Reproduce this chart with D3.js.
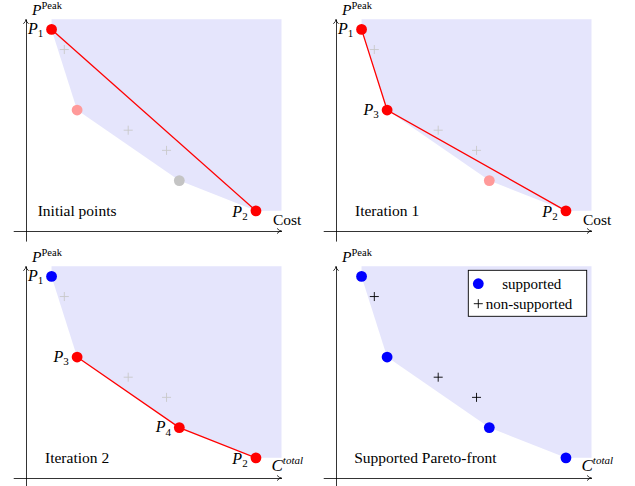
<!DOCTYPE html>
<html><head><meta charset="utf-8">
<script src="https://cdn.jsdelivr.net/npm/d3@7"></script>
<style>
body{margin:0;background:#fff}
svg{display:block}
</style>
</head><body>
<script>
// ---- data ----
const pointNames = ["P1", "P3", "P4", "P2"];
const pointX = [1, 2, 6, 9];
const pointY = [10, 6, 2.5, 1];
const plusX = [1.5, 4, 5.5];
const plusY = [9, 5, 4];
const panelTitles = ["Initial points", "Iteration 1", "Iteration 2", "Supported Pareto-front"];
const panelTitleX = [2, 2, 2, 3.5];
const panelXLabelMain = ["Cost", "Cost", "C", "C"];
const panelXLabelSup = ["", "", "total", "total"];
const yLabelMain = "P";
const yLabelSup = "Peak";
const pointColorKeys = [
  ["red", "pink", "gray", "red"],
  ["red", "red", "pink", "red"],
  ["blue", "red", "red", "red"],
  ["blue", "blue", "blue", "blue"]
];
const redPaths = [["P1", "P2"], ["P1", "P3", "P2"], ["P3", "P4", "P2"], []];
const shownLabels = [["P1", "P2"], ["P1", "P3", "P2"], ["P1", "P3", "P4", "P2"], []];
const plusColorKeys = ["lightgray", "lightgray", "lightgray", "black"];
const legendLabels = ["supported", "non-supported"];

const colors = {red: "#ff0000", pink: "#ff9a9a", gray: "#c4c4c4", blue: "#0000ff", lightgray: "#c8c8c8", black: "#000"};
const shadeColor = "#e5e5fc";
const FONT = "'Liberation Serif', 'DejaVu Serif', 'Times New Roman', Times, serif";

// ---- layout ----
const W = 635, H = 486;
const origins = [[26, 231], [336, 231], [26, 478], [336, 478]];
const x = d3.scaleLinear().domain([0, 10]).range([0, 255.5]);
const y = d3.scaleLinear().domain([0, 10]).range([0, -201.6]);

const svg = d3.select("body").append("svg").attr("width", W).attr("height", H)
  .attr("font-family", FONT);

const pts = pointNames.map((n, i) => ({name: n, x: pointX[i], y: pointY[i]}));
const byName = Object.fromEntries(pts.map(p => [p.name, p]));
const pluses = plusX.map((v, i) => ({x: v, y: plusY[i]}));

function txt(g) { return g.append("text").attr("font-family", FONT).attr("fill", "#000"); }

function pLabel(g, px, py, sub, size) {
  const t = txt(g).attr("x", px).attr("y", py).attr("text-anchor", "end").attr("font-size", size);
  t.append("tspan").attr("font-style", "italic").text("P");
  t.append("tspan").attr("font-size", 11).attr("dy", 3.5).text(sub);
}

function plus(g, cx, cy, col) {
  const s = 4.5;
  g.append("path").attr("d", `M${cx - s},${cy}H${cx + s}M${cx},${cy - s}V${cy + s}`)
    .attr("stroke", col).attr("stroke-width", 0.9).attr("fill", "none");
}

origins.forEach((o, k) => {
  const g = svg.append("g").attr("transform", `translate(${o[0]},${o[1]})`);

  // shaded dominated region: top-left, top-right, bottom-right, then front from P2 back to P1
  const hull = [[1, 10.5], [10, 10.5], [10, 1], ...pts.slice().reverse().map(p => [p.x, p.y])];
  g.append("path")
    .attr("d", d3.line().x(d => x(d[0])).y(d => y(d[1]))(hull) + "Z")
    .attr("fill", shadeColor).attr("stroke", "none");

  // axes via d3.axis (no ticks)
  const xa = d3.scaleLinear().domain([-0.5, 10]).range([x(-0.5), x(10)]);
  const ya = d3.scaleLinear().domain([-0.5, 10.5]).range([y(-0.5), y(10.5)]);
  const gx = g.append("g").call(d3.axisBottom(xa).tickValues([]).tickSizeOuter(0));
  const gy = g.append("g").call(d3.axisLeft(ya).tickValues([]).tickSizeOuter(0));
  [gx, gy].forEach(a => a.select(".domain").attr("stroke", "#000").attr("stroke-width", 0.8));
  const tx = x(10), ty = y(10.5);
  g.append("path").attr("d", `M${tx - 4.5},-2.6Q${tx - 2},0 ${tx},0Q${tx - 2},0 ${tx - 4.5},2.6`)
    .attr("stroke", "#000").attr("stroke-width", 0.8).attr("fill", "none");
  g.append("path").attr("d", `M-2.6,${ty + 4.5}Q0,${ty + 2} 0,${ty}Q0,${ty + 2} 2.6,${ty + 4.5}`)
    .attr("stroke", "#000").attr("stroke-width", 0.8).attr("fill", "none");

  // axis labels
  const yl = txt(g).attr("x", 6).attr("y", y(10.5) - 4).attr("font-size", 15.5);
  yl.append("tspan").attr("font-style", "italic").text(yLabelMain);
  yl.append("tspan").attr("font-size", 10.5).attr("dy", -6).text(yLabelSup);

  const xl = txt(g).attr("x", 245.5).attr("y", -6).attr("font-size", 15.5);
  if (panelXLabelSup[k]) {
    xl.attr("font-size", 17).attr("y", -7);
    xl.append("tspan").attr("font-style", "italic").text(panelXLabelMain[k]);
    xl.append("tspan").attr("font-style", "italic").attr("font-size", 11).attr("dy", -7).text(panelXLabelSup[k]);
  } else {
    xl.attr("x", 247).text(panelXLabelMain[k]);
  }

  // title
  txt(g).attr("x", x(panelTitleX[k])).attr("y", y(1) + 5)
    .attr("text-anchor", "middle").attr("font-size", 15.5).text(panelTitles[k]);

  // non-supported points
  pluses.forEach(p => plus(g, x(p.x), y(p.y), colors[plusColorKeys[k]]));

  // red line
  if (redPaths[k].length) {
    g.append("path")
      .attr("d", d3.line().x(d => x(d.x)).y(d => y(d.y))(redPaths[k].map(n => byName[n])))
      .attr("stroke", colors.red).attr("stroke-width", 1.3).attr("fill", "none");
  }

  // points
  pts.forEach((p, i) => {
    g.append("circle").attr("cx", x(p.x)).attr("cy", y(p.y)).attr("r", 5.4)
      .attr("fill", colors[pointColorKeys[k][i]]);
  });

  // point labels
  shownLabels[k].forEach(n => {
    const p = byName[n];
    const dyb = n === "P2" ? 6 : 4.5;
    pLabel(g, x(p.x) - 8.3, y(p.y) + dyb, n.slice(1), 16);
  });

  // legend
  if (k === 3) {
    const lg = g.append("g");
    lg.append("rect").attr("x", 132.3).attr("y", -207.7).attr("width", 118.4).attr("height", 46)
      .attr("fill", "#fff").attr("stroke", "#000").attr("stroke-width", 0.9);
    lg.append("circle").attr("cx", 142.3).attr("cy", -194.3).attr("r", 5.4).attr("fill", colors.blue);
    txt(lg).attr("x", 195.8).attr("y", -189.5).attr("text-anchor", "middle").attr("font-size", 15).text(legendLabels[0]);
    plus(lg, 142.3, -174.3, colors.black);
    txt(lg).attr("x", 149.7).attr("y", -169.5).attr("font-size", 15).text(legendLabels[1]);
  }
});
</script>
</body></html>
